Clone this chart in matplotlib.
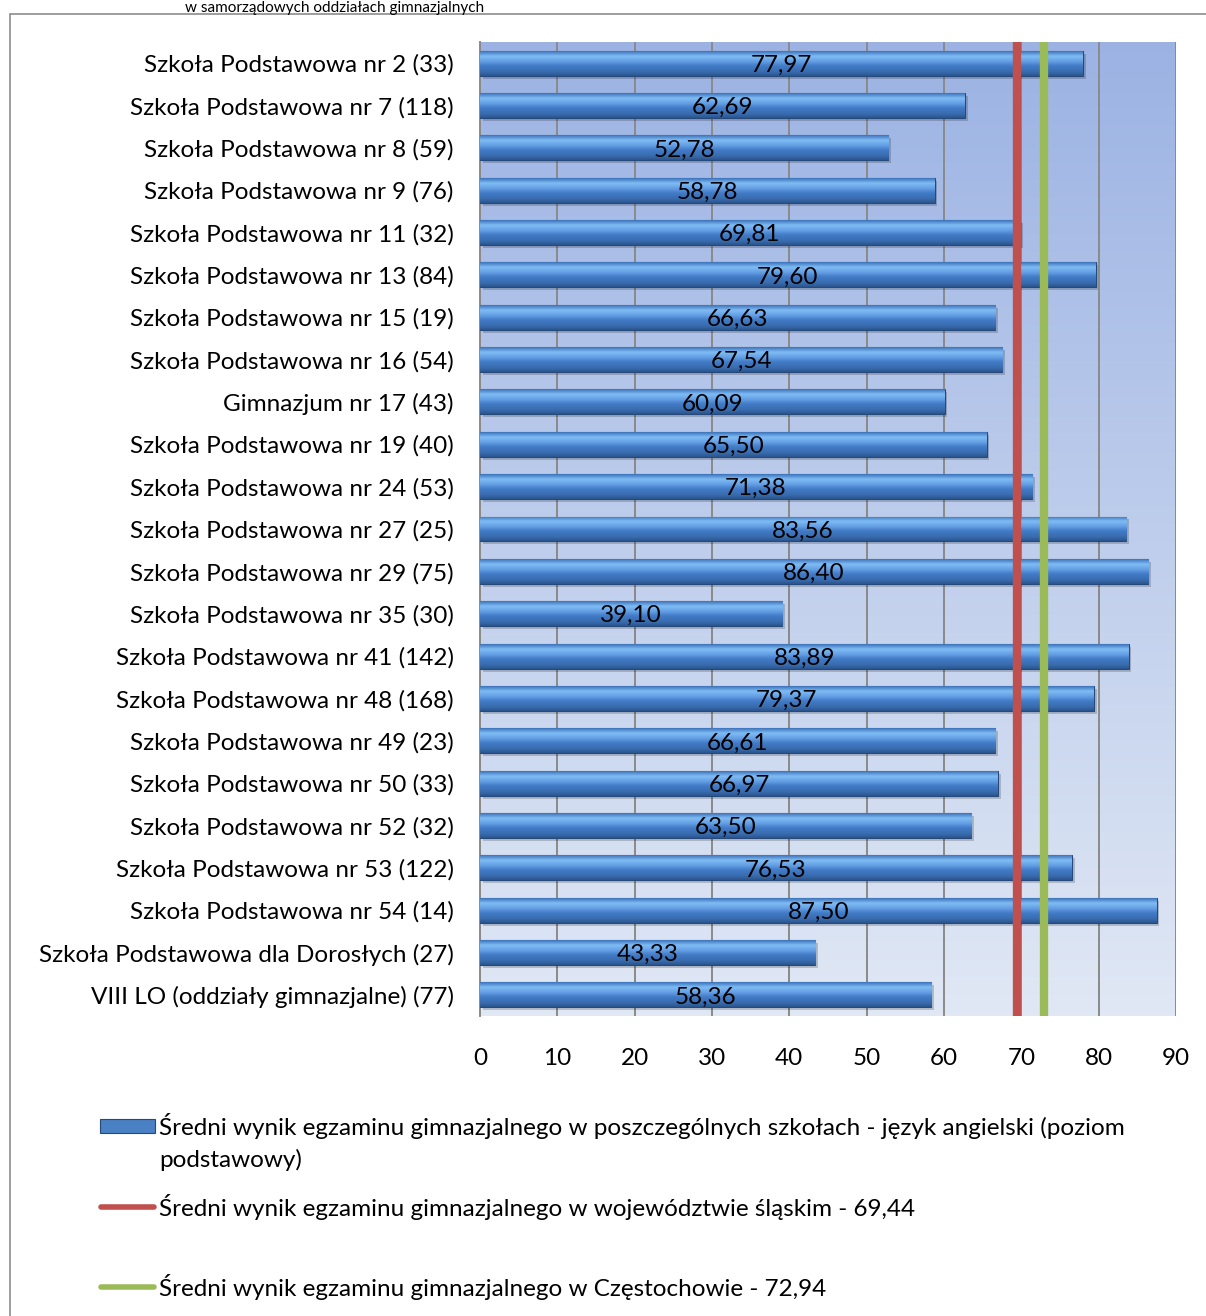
import numpy as np
import matplotlib
matplotlib.use("Agg")
import matplotlib.pyplot as plt
from matplotlib.patches import Rectangle
from matplotlib.lines import Line2D

plt.rcParams['font.family'] = ['Lato', 'DejaVu Sans']

szkoly = [
    "Szkoła Podstawowa nr 2 (33)",
    "Szkoła Podstawowa nr 7 (118)",
    "Szkoła Podstawowa nr 8 (59)",
    "Szkoła Podstawowa nr 9 (76)",
    "Szkoła Podstawowa nr 11 (32)",
    "Szkoła Podstawowa nr 13 (84)",
    "Szkoła Podstawowa nr 15 (19)",
    "Szkoła Podstawowa nr 16 (54)",
    "Gimnazjum nr 17 (43)",
    "Szkoła Podstawowa nr 19 (40)",
    "Szkoła Podstawowa nr 24 (53)",
    "Szkoła Podstawowa nr 27 (25)",
    "Szkoła Podstawowa nr 29 (75)",
    "Szkoła Podstawowa nr 35 (30)",
    "Szkoła Podstawowa nr 41 (142)",
    "Szkoła Podstawowa nr 48 (168)",
    "Szkoła Podstawowa nr 49 (23)",
    "Szkoła Podstawowa nr 50 (33)",
    "Szkoła Podstawowa nr 52 (32)",
    "Szkoła Podstawowa nr 53 (122)",
    "Szkoła Podstawowa nr 54 (14)",
    "Szkoła Podstawowa dla Dorosłych (27)",
    "VIII LO (oddziały gimnazjalne) (77)",
]
wyniki = [77.97, 62.69, 52.78, 58.78, 69.81, 79.60, 66.63, 67.54, 60.09, 65.50,
          71.38, 83.56, 86.40, 39.10, 83.89, 79.37, 66.61, 66.97, 63.50, 76.53,
          87.50, 43.33, 58.36]
srednia_woj = 69.44
srednia_czest = 72.94
osx_ticks = [0, 10, 20, 30, 40, 50, 60, 70, 80, 90]

leg_szkoly_1 = "Średni wynik egzaminu gimnazjalnego w poszczególnych szkołach - język angielski (poziom"
leg_szkoly_2 = "podstawowy)"
leg_woj = "Średni wynik egzaminu gimnazjalnego w województwie śląskim - 69,44"
leg_czest = "Średni wynik egzaminu gimnazjalnego w Częstochowie - 72,94"

FS = 17.5
W, H = 1206, 1316
fig = plt.figure(figsize=(W / 100, H / 100), dpi=100)

def fx(px):
    return px / W

def fy(py):
    return 1 - py / H

# ramka wykresu i tytuł u góry
fig.add_artist(Rectangle((fx(10), fy(1330)), fx(1210) - fx(10), fy(14) - fy(1330),
                         transform=fig.transFigure, fill=False, edgecolor='#8c8c8c', lw=1.2))
fig.text(fx(185), fy(1), "w samorządowych oddziałach gimnazjalnych", fontsize=11,
         va='top', ha='left', color='black')

ax = fig.add_axes([fx(480), fy(1016), fx(1176) - fx(480), fy(42) - fy(1016)])

# tło z gradientem
grad = np.linspace(0, 1, 256).reshape(-1, 1)
top = np.array([0.61, 0.70, 0.89])
bot = np.array([0.88, 0.91, 0.96])
bg = top[None, None, :] * (1 - grad[:, :, None]) + bot[None, None, :] * grad[:, :, None]
ax.imshow(bg, extent=[0, 90, len(szkoly) - 0.5, -0.5], aspect='auto', zorder=0,
          interpolation='bilinear')

y = np.arange(len(szkoly))
h = 0.59

# cień słupków
ax.barh(y + 0.07, wyniki, height=h, left=0.35, color='#000000', alpha=0.18, zorder=2)
bars = ax.barh(y, wyniki, height=h, color='#3b6fb2', edgecolor='#24497a', lw=0.8, zorder=3)

stops = np.array([
    [0.24, 0.45, 0.73],
    [0.50, 0.74, 0.96],
    [0.40, 0.63, 0.90],
    [0.26, 0.48, 0.78],
    [0.22, 0.42, 0.68],
    [0.17, 0.33, 0.55],
])
pos = np.array([0.0, 0.2, 0.4, 0.6, 0.85, 1.0])
t = np.linspace(0, 1, 64)
bar_grad = np.stack([np.interp(t, pos, stops[:, k]) for k in range(3)], axis=-1)[:, None, :]

for yi, v, b in zip(y, wyniki, bars):
    im = ax.imshow(bar_grad, extent=[0, v, yi + h / 2, yi - h / 2], aspect='auto',
                   zorder=3.5, interpolation='bilinear')
    im.set_clip_path(b)
    ax.text(v / 2, yi + 0.05, f"{v:.2f}".replace('.', ','), ha='center', va='center',
            fontsize=FS, color='black', zorder=6)

ax.axvline(srednia_woj, color='#c0504d', lw=6, zorder=5)
ax.axvline(srednia_czest, color='#9bbb59', lw=6, zorder=5)

ax.set_xlim(0, 90)
ax.set_ylim(len(szkoly) - 0.5, -0.5)
ax.set_xticks(osx_ticks)
ax.set_xticklabels([str(v) for v in osx_ticks])
ax.set_yticks(y)
ax.set_yticklabels(szkoly)
ax.tick_params(axis='y', length=0, pad=19, labelsize=FS)
ax.tick_params(axis='x', length=0, pad=23, labelsize=FS)
ax.grid(axis='x', color='#8a8a8a', lw=1.4, zorder=1)
ax.set_axisbelow(True)
for s in ['top', 'right', 'bottom']:
    ax.spines[s].set_visible(False)
ax.spines['left'].set_color('#8a8a8a')
ax.spines['left'].set_linewidth(1.4)

# legenda
fig.add_artist(Rectangle((fx(100), fy(1133)), fx(155) - fx(100), fy(1119) - fy(1133),
                         transform=fig.transFigure, facecolor='#4a80c4', edgecolor='#24497a', lw=0.8))
fig.text(fx(159), fy(1126), leg_szkoly_1, fontsize=FS, va='center', ha='left')
fig.text(fx(159), fy(1160), leg_szkoly_2, fontsize=FS, va='center', ha='left')
fig.add_artist(Line2D([fx(101), fx(154)], [fy(1207), fy(1207)], transform=fig.transFigure,
                      color='#c0504d', lw=4, solid_capstyle='round'))
fig.text(fx(159), fy(1207), leg_woj, fontsize=FS, va='center', ha='left')
fig.add_artist(Line2D([fx(101), fx(154)], [fy(1287), fy(1287)], transform=fig.transFigure,
                      color='#9bbb59', lw=4, solid_capstyle='round'))
fig.text(fx(159), fy(1287), leg_czest, fontsize=FS, va='center', ha='left')

fig.savefig("out.png", dpi=100)
